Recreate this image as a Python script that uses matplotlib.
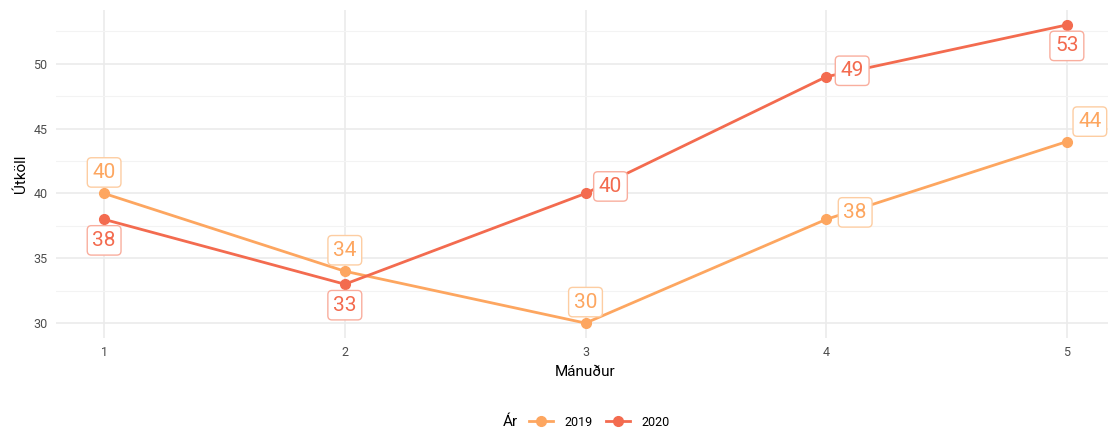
import matplotlib

matplotlib.use("Agg")

import matplotlib.pyplot as plt
from matplotlib.lines import Line2D

plt.rcParams["font.family"] = ["Roboto", "DejaVu Sans"]

months = [1, 2, 3, 4, 5]
calls_2019 = [40, 34, 30, 38, 44]
calls_2020 = [38, 33, 40, 49, 53]
years = ["2019", "2020"]

COLORS = {"2019": "#FDA660", "2020": "#F36B4F"}
EDGE = {"2019": "#FDCDA2", "2020": "#F9AE9E"}
# label offsets in pixels (dx, dy), mimicking ggrepel placement
OFFSETS = {
    "2019": [(0, 21), (0, 21), (0, 21), (29, 7), (23, 20)],
    "2020": [(0, -21), (0, -21), (25, 7), (26, 6), (0, -21)],
}

fig = plt.figure(figsize=(11.08, 4.33), dpi=100)
ax = fig.add_axes([56 / 1108, 95 / 433, (1115 - 56) / 1108, (423 - 95) / 433])

ax.set_xlim(0.8, 5.2)
ax.set_ylim(28.85, 54.15)
ax.set_xticks(months)
ax.set_yticks([30, 35, 40, 45, 50])
ax.set_yticks([32.5, 37.5, 42.5, 47.5, 52.5], minor=True)
ax.grid(True, which="major", color="#EBEBEB", linewidth=1.2)
ax.grid(True, which="minor", axis="y", color="#F3F3F3", linewidth=0.8)
ax.set_axisbelow(True)
for spine in ax.spines.values():
    spine.set_visible(False)
ax.tick_params(which="both", length=0, labelsize=9, labelcolor="#4D4D4D", pad=6)

series = {"2019": calls_2019, "2020": calls_2020}
for year in years:
    values = series[year]
    ax.plot(months, values, color=COLORS[year], linewidth=2.0, marker="o",
            markersize=7, zorder=3)
    for x, y, (dx, dy) in zip(months, values, OFFSETS[year]):
        ax.annotate(
            str(y), (x, y), xytext=(dx, dy), textcoords="offset pixels",
            ha="center", va="center", fontsize=15, color=COLORS[year],
            bbox=dict(boxstyle="round,pad=0.25,rounding_size=0.2", fc="white",
                      ec=EDGE[year], lw=1.0),
            zorder=4, annotation_clip=False,
        )

ax.set_xlabel("Mánuður", fontsize=11, labelpad=4)
ax.set_ylabel("Útköll", fontsize=11, labelpad=4)

handles = [
    Line2D([], [], color=COLORS[y], linewidth=2.0, marker="o", markersize=7)
    for y in years
]
fig.text(503 / 1108, 1 - 422 / 433, "Ár", fontsize=11, ha="left", va="center")
fig.legend(
    handles, years, loc="center left", bbox_to_anchor=(529 / 1108, 1 - 422 / 433),
    ncol=2, frameon=False, fontsize=9, handlelength=1.9,
    columnspacing=1.1, handletextpad=0.9, borderpad=0, borderaxespad=0,
)

fig.savefig("out.png", dpi=100)
